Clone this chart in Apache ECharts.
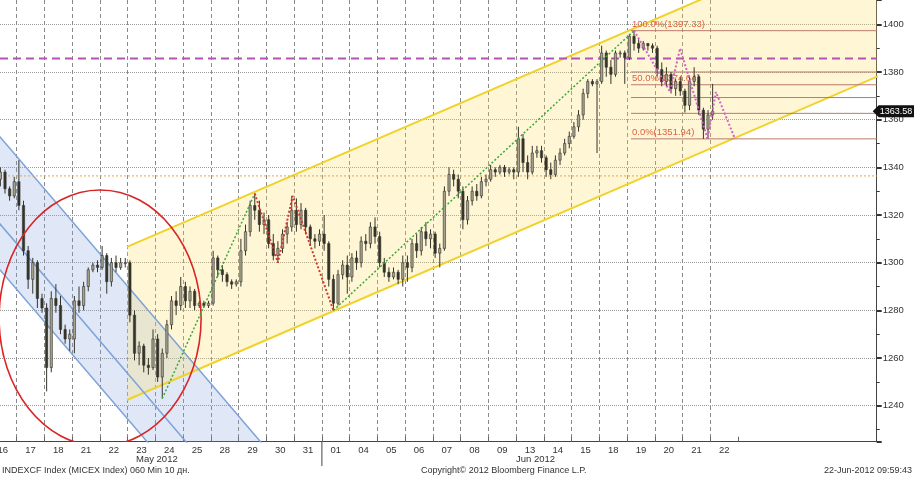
<!DOCTYPE html>
<html><head><meta charset="utf-8">
<script src="https://cdn.jsdelivr.net/npm/echarts@6/dist/echarts.min.js"></script>
<style>html,body{margin:0;padding:0;background:#fff}#c{width:914px;height:477px}</style>
</head><body><div id="c"></div>
<script>
// ---------- DATA ----------
const dayLabels = ['16','17','18','21','22','23','24','25','28','29','30','31','01','04','05','06','07','08','09','13','14','15','18','19','20','21','22'];
const monthLabels = ['May 2012', 'Jun 2012'];
const barsPerDay = 6;
// hourly candles [open, close, low, high], 6 per trading day
const candles = [
  // May 16
  [1336,1338,1334,1340],[1338,1335,1333,1339],[1335,1338,1332,1340],[1338,1331,1329,1339],[1331,1328,1326,1332],[1328,1334,1327,1336],
  // May 17
  [1334,1324,1322,1343],[1324,1305,1303,1326],[1305,1293,1289,1307],[1293,1300,1287,1302],[1300,1285,1281,1301],[1285,1281,1279,1287],
  // May 18
  [1281,1256,1246,1283],[1256,1285,1254,1288],[1285,1282,1279,1291],[1282,1272,1270,1286],[1272,1268,1266,1274],[1268,1270,1263,1272],
  // May 21
  [1268,1284,1262,1286],[1284,1282,1279,1290],[1282,1290,1280,1292],[1290,1297,1288,1298],[1297,1299,1296,1300],[1299,1298,1296,1301],
  // May 22
  [1298,1303,1297,1307],[1303,1292,1287,1304],[1292,1300,1290,1302],[1300,1298,1296,1303],[1298,1300,1297,1302],[1300,1300,1298,1302],
  // May 23
  [1300,1278,1275,1301],[1278,1262,1259,1280],[1262,1265,1257,1267],[1265,1257,1254,1266],[1257,1256,1253,1260],[1256,1268,1255,1272],
  // May 24
  [1268,1252,1250,1270],[1252,1262,1243,1264],[1262,1274,1260,1276],[1274,1284,1272,1286],[1284,1282,1278,1288],[1282,1290,1280,1294],
  // May 25
  [1290,1284,1281,1292],[1284,1288,1281,1290],[1288,1282,1280,1289],[1282,1283,1281,1284],[1283,1282,1281,1284],[1282,1283,1281,1284],
  // May 28
  [1283,1302,1282,1305],[1302,1297,1294,1303],[1297,1295,1292,1299],[1295,1292,1290,1296],[1292,1291,1289,1293],[1291,1292,1290,1293],
  // May 29
  [1292,1305,1290,1310],[1305,1313,1303,1316],[1313,1324,1311,1326],[1324,1322,1318,1329],[1322,1316,1313,1326],[1316,1318,1312,1321],
  // May 30
  [1318,1308,1306,1320],[1308,1303,1301,1312],[1303,1306,1300,1309],[1306,1312,1304,1314],[1312,1315,1308,1317],[1315,1322,1313,1328],
  // May 31
  [1322,1316,1313,1327],[1316,1322,1314,1325],[1322,1315,1312,1323],[1315,1310,1307,1316],[1310,1309,1306,1312],[1309,1312,1307,1314],
  // Jun 01
  [1312,1308,1305,1320],[1308,1293,1290,1309],[1293,1283,1280,1295],[1283,1295,1282,1297],[1295,1299,1293,1301],[1299,1294,1287,1303],
  // Jun 04
  [1294,1302,1292,1304],[1302,1300,1297,1305],[1300,1309,1298,1311],[1309,1308,1305,1312],[1308,1315,1306,1317],[1315,1311,1308,1319],
  // Jun 05
  [1311,1300,1298,1313],[1300,1296,1294,1302],[1296,1294,1292,1298],[1294,1296,1293,1298],[1296,1293,1291,1297],[1293,1300,1290,1303],
  // Jun 06
  [1300,1298,1292,1303],[1298,1308,1296,1310],[1308,1305,1302,1312],[1305,1313,1303,1315],[1313,1310,1307,1317],[1310,1312,1306,1314],
  // Jun 07
  [1312,1304,1302,1313],[1304,1306,1298,1308],[1306,1330,1305,1332],[1330,1337,1328,1340],[1337,1335,1332,1339],[1335,1330,1327,1337],
  // Jun 08
  [1330,1318,1314,1332],[1318,1326,1316,1328],[1326,1330,1324,1332],[1330,1328,1326,1333],[1328,1334,1327,1336],[1334,1335,1332,1337],
  // Jun 09
  [1335,1339,1334,1341],[1339,1338,1336,1340],[1338,1340,1337,1341],[1340,1338,1336,1341],[1338,1339,1337,1340],[1339,1338,1335,1340],
  // Jun 13
  [1338,1352,1336,1357],[1352,1342,1338,1354],[1342,1338,1335,1345],[1338,1346,1337,1349],[1346,1347,1344,1349],[1347,1344,1342,1349],
  // Jun 14
  [1344,1339,1336,1345],[1339,1337,1335,1342],[1337,1343,1336,1345],[1343,1346,1341,1348],[1346,1350,1345,1352],[1350,1353,1348,1355],
  // Jun 15
  [1353,1357,1352,1359],[1357,1362,1355,1364],[1362,1371,1360,1373],[1371,1376,1369,1377],[1376,1375,1374,1377],[1375,1376,1346,1377],
  // Jun 18
  [1376,1388,1375,1391],[1388,1382,1378,1389],[1382,1379,1375,1385],[1379,1388,1378,1389],[1388,1388,1386,1389],[1388,1386,1375,1389],
  // Jun 19
  [1386,1395,1385,1396],[1395,1392,1389,1397.33],[1392,1390,1388,1394],[1390,1392,1389,1393],[1392,1391,1389,1392],[1391,1390,1388,1392],
  // Jun 20
  [1390,1381,1378,1391],[1381,1376,1374,1384],[1376,1379,1374,1382],[1379,1373,1371,1380],[1373,1376,1370,1377],[1376,1372,1370,1378],
  // Jun 21
  [1372,1366,1363,1373],[1366,1376,1364,1378],[1376,1378,1374,1382],[1378,1364,1362,1379],[1364,1356,1351.94,1365],[1356,1362,1352,1364],
  // Jun 22
  [1362,1363.58,1360,1375]
];
const lastPrice = 1363.58;
const fibLevels = [1397.33, 1380.00, 1374.64, 1369.28, 1362.65, 1351.94];
const fibLabelLevels = [1397.33, 1374.64, 1351.94];
const fibLabelTexts = ['100.0%(1397.33)', '50.0%(1374.64)', '0.0%(1351.94)'];
const resistanceLevel = 1385.7;   // purple dashed
const supportLevel = 1336.4;      // orange dotted
// annotation coordinates [day position, price]
const yellowUpper = [[4.48, 1306.6], [31.6, 1442.7]];
const yellowLower = [[4.48, 1242.4], [31.6, 1378.5]];
const blueUpper  = [[-0.3, 1355.5], [9.4, 1223.4]];
const blueMiddle = [[-0.3, 1319.0], [6.72, 1223.3]];
const blueLower  = [[-0.3, 1299.7], [5.32, 1223.3]];
const greenPath1 = [[5.75, 1243], [9.083, 1329]];
const redPath    = [[9.083, 1329], [9.917, 1300], [10.45, 1328], [11.917, 1280]];
const greenPath2 = [[11.917, 1280], [22.75, 1397.33]];
const magentaPath = [[22.75, 1397.33], [24.05, 1371.7], [24.41, 1389.9], [25.4, 1351.94], [25.7, 1371.6], [26.37, 1352.5]];
const circleCenter = [3.51, 1276.8];
const circleRadii = [3.64, 53.7];
const fibStart = 22.64;

// ---------- CHART ----------
const X_MIN = -0.0973, X_MAX = 31.495;
const FONT = 'Liberation Sans';
const candleData = candles.map((c, i) => {
  const d = Math.floor(i / barsPerDay), k = i % barsPerDay;
  return [d - 0.5 + (k + 0.5) / barsPerDay, c[0], c[1], c[2], c[3]];
});

function lineSeries(data, color, width, type, z) {
  return { type: 'line', xAxisIndex: 0, yAxisIndex: 0, data: data, symbol: 'none', silent: true,
    lineStyle: { color: color, width: width, type: type }, z: z, clip: true, animation: false };
}
function polySeries(a1, a2, color, z) {
  return { type: 'custom', xAxisIndex: 0, yAxisIndex: 0, clip: true, z: z, silent: true,
    data: [[0]],
    renderItem: (params, api) => {
      const pts = [a1[0], a1[1], a2[1], a2[0]].map(p => api.coord(p));
      return { type: 'polygon', shape: { points: pts }, style: { fill: color } };
    } };
}

const chart = echarts.init(document.getElementById('c'), null, { renderer: 'canvas' });
const series = [
  polySeries(blueUpper, blueLower, 'rgba(131,163,227,0.25)', 1),
  polySeries(yellowUpper, yellowLower, 'rgba(255,219,91,0.25)', 1),
  lineSeries(yellowUpper, '#f0d22a', 2, 'solid', 3),
  lineSeries(yellowLower, '#f0d22a', 2, 'solid', 3),
  lineSeries(blueUpper, '#7ea2d8', 1.5, 'solid', 3),
  lineSeries(blueMiddle, '#7ea2d8', 1.5, 'solid', 3),
  lineSeries(blueLower, '#7ea2d8', 1.5, 'solid', 3),
  lineSeries([[X_MIN, supportLevel], [X_MAX, supportLevel]], '#e3a452', 1, [2, 2], 3),
  ...fibLevels.map(l => lineSeries([[fibStart, l], [X_MAX, l]], '#b97a6e', 1, 'solid', 3)),
  lineSeries([[X_MIN, resistanceLevel], [X_MAX, resistanceLevel]], '#b552b5', 2, [8, 5], 4),
  { type: 'custom', xAxisIndex: 0, yAxisIndex: 0, clip: true, z: 4, silent: true,
    data: fibLabelLevels.map((l, i) => [fibStart, l, i]),
    renderItem: (params, api) => {
      const p = api.coord([api.value(0), api.value(1)]);
      return { type: 'text', x: p[0] + 1, y: p[1] - 1,
        style: { text: fibLabelTexts[api.value(2)], fill: '#e0603e', fontSize: 9.5, fontFamily: FONT,
          textAlign: 'left', textVerticalAlign: 'bottom' } };
    } },
  { type: 'custom', xAxisIndex: 0, yAxisIndex: 0, clip: true, z: 5, silent: true,
    encode: { x: 0, y: [1, 2, 3, 4] },
    data: candleData,
    renderItem: (params, api) => {
      const t = api.value(0), o = api.value(1), c = api.value(2), l = api.value(3), h = api.value(4);
      const pH = api.coord([t, h]), pL = api.coord([t, l]), pO = api.coord([t, o]), pC = api.coord([t, c]);
      const w = Math.max(1, api.size([1 / barsPerDay, 0])[0] * 0.5);
      const up = c >= o;
      const top = Math.min(pO[1], pC[1]), bot = Math.max(pO[1], pC[1]);
      return { type: 'group', children: [
        { type: 'line', shape: { x1: pH[0], y1: pH[1], x2: pL[0], y2: pL[1] }, style: { stroke: '#34342a', lineWidth: 1 } },
        { type: 'rect', shape: { x: pO[0] - w / 2, y: top, width: w, height: Math.max(1, bot - top) },
          style: { fill: up ? '#a7a390' : '#34342a', stroke: '#34342a', lineWidth: 0.6 } }
      ] };
    } },
  lineSeries(greenPath1, '#3aa83a', 1.5, [2, 2], 6),
  lineSeries(greenPath2, '#3aa83a', 1.5, [2, 2], 6),
  lineSeries(redPath, '#d4382a', 2, [2, 2], 6),
  lineSeries(magentaPath, '#d064c4', 2, [2, 2], 6),
  { type: 'custom', xAxisIndex: 0, yAxisIndex: 0, clip: true, z: 6, silent: true,
    data: [[circleCenter[0], circleCenter[1]]],
    renderItem: (params, api) => {
      const p = api.coord([api.value(0), api.value(1)]);
      const s = api.size(circleRadii);
      return { type: 'ellipse', shape: { cx: p[0], cy: p[1], rx: s[0], ry: s[1] },
        style: { fill: null, stroke: '#d82626', lineWidth: 1.6 } };
    } },
  { type: 'custom', xAxisIndex: 0, yAxisIndex: 0, clip: false, z: 10, silent: true,
    data: [[X_MAX, lastPrice]],
    renderItem: (params, api) => {
      const p = api.coord([api.value(0), api.value(1)]);
      const x = p[0], y = p[1];
      return { type: 'group', children: [
        { type: 'polygon', shape: { points: [[x - 4, y], [x + 2, y - 6], [x + 40, y - 6], [x + 40, y + 6], [x + 2, y + 6]] },
          style: { fill: '#111' } },
        { type: 'text', x: x + 3, y: y, style: { text: lastPrice.toFixed(2), fill: '#fff', fontSize: 9, fontFamily: FONT,
          textAlign: 'left', textVerticalAlign: 'middle' } }
      ] };
    } }
];

chart.setOption({
  animation: false,
  backgroundColor: '#fff',
  textStyle: { fontFamily: FONT },
  grid: [
    { left: 0, right: 37.3, top: 0, bottom: 35.3, outerBoundsMode: 'none', containLabel: false },
    { left: -11.175, width: 749.25, top: 0, bottom: 35.3, outerBoundsMode: 'none', containLabel: false }
  ],
  xAxis: [
    { type: 'value', gridIndex: 0, min: X_MIN, max: X_MAX,
      axisLine: { show: true, onZero: false, lineStyle: { color: '#444' } }, axisTick: { show: false },
      axisLabel: { show: false }, splitLine: { show: false } },
    { type: 'category', gridIndex: 1, data: dayLabels, boundaryGap: true,
      axisLine: { show: false, onZero: false },
      axisTick: { show: true, inside: true, length: 5, lineStyle: { color: '#666' } },
      axisLabel: { interval: 0, fontSize: 9.5, color: '#333', margin: 4, fontFamily: FONT },
      splitLine: { show: true, showMinLine: false, showMaxLine: false,
        lineStyle: { color: '#8a8a8a', type: [4, 3], width: 1 } } }
  ],
  yAxis: [
    { type: 'value', gridIndex: 0, position: 'right', min: 1224.9, max: 1410.2, minInterval: 20, maxInterval: 20,
      axisLine: { show: true, onZero: false, lineStyle: { color: '#444' } },
      axisTick: { show: true, length: 5, lineStyle: { color: '#333', width: 2 } },
      minorTick: { show: true, splitNumber: 2, length: 3, lineStyle: { color: '#333' } },
      axisLabel: { color: '#333', fontSize: 9.5, margin: 6, showMinLabel: false, showMaxLabel: false, fontFamily: FONT,
        formatter: v => String(v) },
      splitLine: { show: true, showMinLine: false, showMaxLine: false, lineStyle: { color: '#9a9a9a', type: 'dotted' } } },
    { type: 'value', gridIndex: 1, show: false, min: 0, max: 1,
      axisLine: { show: false, onZero: false }, axisTick: { show: false }, minorTick: { show: false },
      axisLabel: { show: false }, splitLine: { show: false } }
  ],
  graphic: [
    { type: 'text', left: 136, top: 454, style: { text: monthLabels[0], fill: '#333', font: '9.5px "Liberation Sans"' } },
    { type: 'text', left: 516, top: 454, style: { text: monthLabels[1], fill: '#333', font: '9.5px "Liberation Sans"' } },
    { type: 'line', shape: { x1: 321.9, y1: 442, x2: 321.9, y2: 466 }, style: { stroke: '#444', lineWidth: 1 } },
    { type: 'text', left: 2, top: 466, style: { text: 'INDEXCF Index (MICEX Index) 060 Min 10 дн.', fill: '#333', font: '9px "Liberation Sans"' } },
    { type: 'text', left: 421, top: 466, style: { text: 'Copyright© 2012 Bloomberg Finance L.P.', fill: '#333', font: '9px "Liberation Sans"' } },
    { type: 'text', right: 2, top: 466, style: { text: '22-Jun-2012 09:59:43', fill: '#333', font: '9px "Liberation Sans"' } }
  ],
  series: series
});
</script>
</body></html>
